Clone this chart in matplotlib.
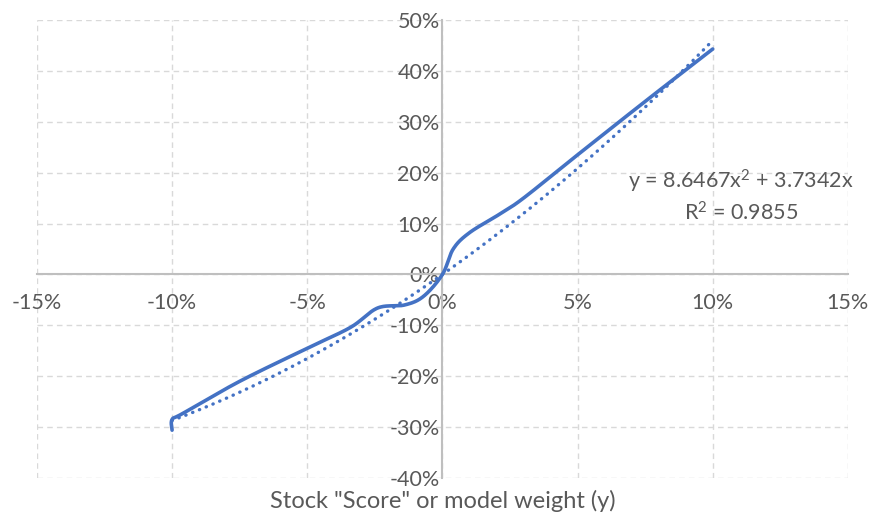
import numpy as np
import matplotlib.pyplot as plt
from matplotlib.ticker import FuncFormatter

# data (percent)
score_x = [-10.0, -10.0, -9.6, -7.5, -5.0, -3.4, -2.4, -1.4, -0.7, 0.0, 0.4, 1.0, 2.1, 3.0, 5.0, 7.5, 10.0]
score_y = [-30.6, -28.5, -27.3, -21.0, -14.5, -10.4, -6.6, -6.0, -4.3, 0.0, 5.0, 8.2, 11.8, 15.0, 23.5, 34.0, 44.3]

# polynomial trendline shown on the chart
trend_a = 8.6467
trend_b = 3.7342
trend_r2 = 0.9855

x_ticks = [-15, -10, -5, 0, 5, 10, 15]
y_ticks = [-40, -30, -20, -10, 0, 10, 20, 30, 40, 50]

blue = "#4472C4"
grey = "#595959"

plt.rcParams['font.family'] = ['Lato', 'DejaVu Sans']
plt.rcParams['mathtext.fontset'] = 'custom'
plt.rcParams['mathtext.rm'] = 'Lato'
plt.rcParams['mathtext.default'] = 'regular'


# Excel-like smoothing (uniform Catmull-Rom through the points)
def smooth(xs, ys, n=30):
    p = np.column_stack([xs, ys])
    p = np.vstack([p[0], p, p[-1]])
    out = []
    for i in range(1, len(p) - 2):
        p0, p1, p2, p3 = p[i - 1], p[i], p[i + 1], p[i + 2]
        t = np.linspace(0, 1, n)[:, None]
        c = 0.5 * ((2 * p1) + (-p0 + p2) * t + (2 * p0 - 5 * p1 + 4 * p2 - p3) * t ** 2
                   + (-p0 + 3 * p1 - 3 * p2 + p3) * t ** 3)
        out.append(c if i == 1 else c[1:])
    out = np.vstack(out)
    return out[:, 0], out[:, 1]


fig = plt.figure(figsize=(8.79, 5.17), dpi=100)
ax = fig.add_axes([0.042, 0.0754, 0.9226, 0.8859])

sx, sy = smooth(score_x, score_y)
ax.plot(sx, sy, color=blue, lw=2.6, solid_capstyle='round', zorder=4)

tx = np.linspace(-10, 10, 200) / 100
ty = trend_a * tx ** 2 + trend_b * tx
ax.plot(tx * 100, ty * 100, color=blue, lw=2.4, linestyle=(0, (0.1, 2.1)),
        dash_capstyle='round', zorder=3)

ax.set_xlim(-15, 15)
ax.set_ylim(-40, 50)
ax.set_xticks(x_ticks)
ax.set_yticks(y_ticks)
pct = FuncFormatter(lambda v, p: f"{v:.0f}%")
ax.xaxis.set_major_formatter(pct)
ax.yaxis.set_major_formatter(pct)

ax.grid(True, color="#D9D9D9", linestyle=(0, (4, 3)), lw=1)
ax.set_axisbelow(True)

for s in ['top', 'right']:
    ax.spines[s].set_visible(False)
for s in ['left', 'bottom']:
    ax.spines[s].set_position(('data', 0))
    ax.spines[s].set_color("#BFBFBF")
    ax.spines[s].set_linewidth(1.5)
    ax.spines[s].set_zorder(2)

ax.tick_params(axis='both', length=0, labelsize=15.5, labelcolor=grey)
ax.tick_params(axis='x', pad=13)
ax.tick_params(axis='y', pad=2)

ax.set_xlabel('Stock "Score" or model weight (y)', fontsize=17, color=grey)
ax.xaxis.set_label_coords(0.5, -0.026)

ax.text(0.868, 0.616, f"y = {trend_a}x$^2$ + {trend_b}x\nR$^2$ = {trend_r2}",
        transform=ax.transAxes, ha='center', va='center', fontsize=15.5,
        color=grey, linespacing=1.35)

fig.savefig("out.png", dpi=100)
